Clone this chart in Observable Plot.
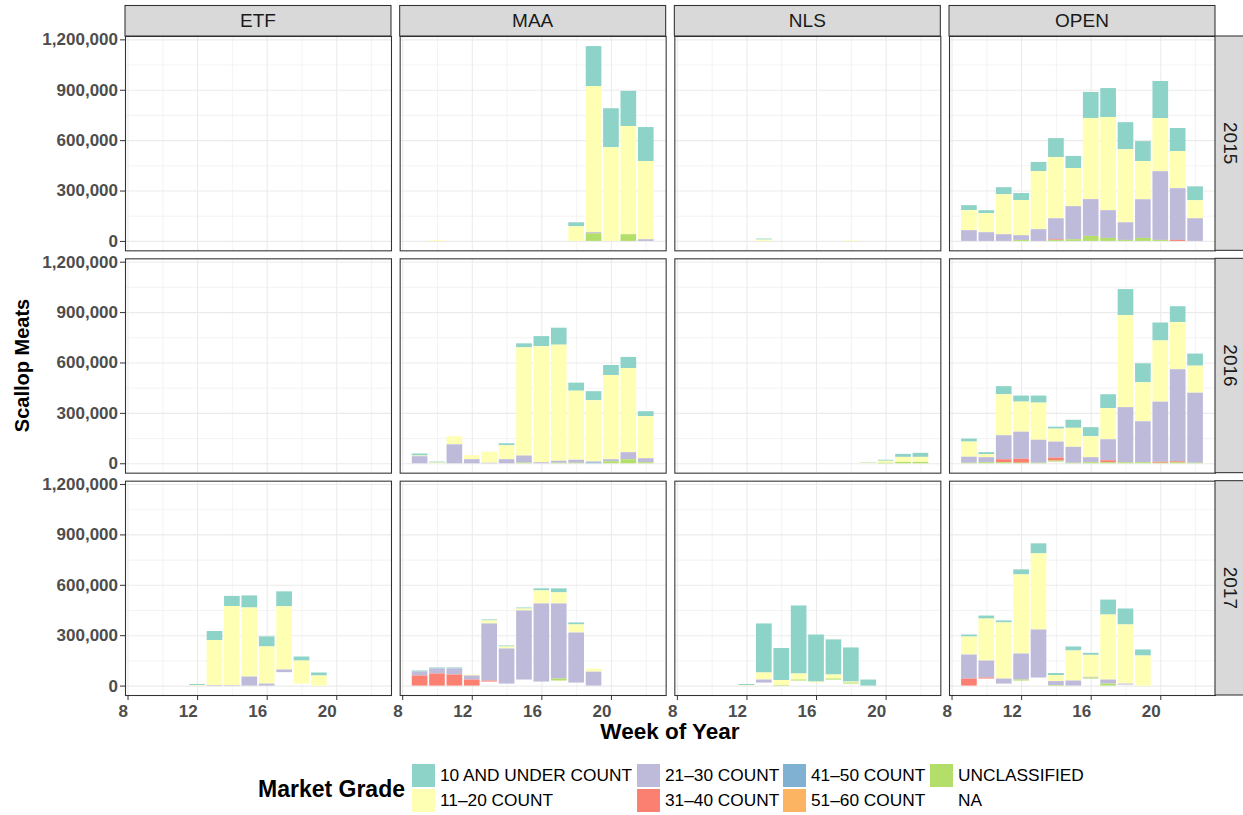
<!DOCTYPE html>
<html><head><meta charset="utf-8">
<script src="https://cdn.jsdelivr.net/npm/d3@7"></script>
<script src="https://cdn.jsdelivr.net/npm/@observablehq/plot@0.6"></script>
<style>
body{margin:0;background:#fff;font-family:"Liberation Sans",Arial,Helvetica,sans-serif;}
#wrap{position:relative;width:1243px;height:815px;overflow:hidden;background:#fff;}
#chart{position:absolute;left:0;top:0;}
#chart svg [aria-label*="axis"] text{fill:#4d4d4d;font-weight:bold;}
.lg-title{position:absolute;font-weight:bold;font-size:23px;color:#000;line-height:1;}
.lg-sw{position:absolute;width:23px;height:23px;}
.lg-lab{position:absolute;font-size:17.3px;color:#000;line-height:23px;white-space:nowrap;}
</style></head><body>
<div id="wrap"><div id="chart"></div><div id="legend"></div></div>
<script>
// ---- categories ----
const weeks = [9,10,11,12,13,14,15,16,17,18,19,20,21,22];
const areas = ["ETF","MAA","NLS","OPEN"];
const years = [2015,2016,2017];
const grades = ["10 AND UNDER COUNT","11–20 COUNT","21–30 COUNT","31–40 COUNT","41–50 COUNT","51–60 COUNT","UNCLASSIFIED","NA"];
const gradeColors = ["#8DD3C7","#FFFFB3","#BEBADA","#FB8072","#80B1D3","#FDB462","#B3DE69","transparent"];
const xTicks = [8,12,16,20];
const xMinor = [10,14,18,22];
const yTicks = [0,300000,600000,900000,1200000];
const yMinor = [150000,450000,750000,1050000];

// ---- values (weeks 9..22) ----
// MAA 2015
const maa15_u10 = [0,0,0,0,0,0,0,0,0,24000,238000,232000,209000,203000];
const maa15_g11 = [0,5000,0,0,0,0,0,0,0,87000,870000,558000,644000,465000];
const maa15_g21 = [0,0,0,0,0,0,0,0,0,0,6000,0,0,10000];
const maa15_ucl = [0,0,0,0,0,0,0,0,0,0,46000,0,40000,0];
// NLS 2015
const nls15_u10 = [0,0,0,0,6000,0,0,0,0,0,0,0,0,0];
const nls15_g11 = [0,0,0,0,8000,0,0,0,0,4000,0,0,0,0];
// OPEN 2015
const open15_u10 = [30000,18000,42000,42000,54000,113000,72000,155000,173000,161000,119000,221000,137000,83000];
const open15_g11 = [119000,113000,238000,209000,346000,364000,227000,483000,554000,435000,227000,316000,221000,107000];
const open15_g21 = [64000,52000,40000,28000,70000,125000,197000,219000,165000,105000,230000,409000,308000,135000];
const open15_g31 = [0,0,0,0,0,4000,0,0,0,0,0,0,6000,0];
const open15_ucl = [0,0,0,6000,0,6000,10000,30000,18000,6000,18000,6000,0,0];
// MAA 2016
const maa16_u10 = [12000,6000,0,0,0,12000,24000,60000,101000,48000,54000,60000,66000,30000];
const maa16_g11 = [4000,4000,48000,24000,66000,83000,644000,691000,691000,411000,364000,501000,501000,250000];
const maa16_g21 = [42000,0,113000,24000,3000,24000,42000,6000,12000,18000,6000,12000,42000,24000];
const maa16_g41 = [0,0,0,0,0,0,0,0,0,0,5000,0,0,0];
const maa16_ucl = [0,0,0,0,0,0,4000,0,3000,3000,0,12000,24000,6000];
// NLS 2016
const nls16_u10 = [0,0,0,0,0,0,0,0,0,0,3000,6000,18000,24000];
const nls16_g11 = [0,0,0,0,0,0,0,0,0,0,3000,12000,30000,30000];
const nls16_ucl = [0,0,0,0,0,0,0,0,0,0,0,3000,8000,8000];
// OPEN 2016
const open16_u10 = [18000,12000,48000,36000,42000,12000,48000,54000,83000,155000,113000,107000,95000,72000];
const open16_g11 = [90000,18000,244000,179000,221000,77000,113000,125000,185000,548000,232000,364000,280000,161000];
const open16_g21 = [36000,30000,143000,161000,137000,95000,95000,30000,125000,328000,244000,358000,548000,417000];
const open16_g31 = [0,0,18000,24000,0,18000,0,0,12000,0,0,6000,6000,0];
const open16_ucl = [3000,6000,6000,3000,3000,6000,3000,6000,6000,6000,6000,3000,6000,3000];
const open16_na  = [0,0,0,0,0,10000,0,0,0,0,0,0,0,0];
// ETF 2017
const etf17_u10 = [0,0,0,6000,54000,60000,72000,60000,89000,24000,18000,0,0,0];
const etf17_g11 = [0,0,0,3000,268000,471000,411000,221000,376000,137000,60000,0,0,0];
const etf17_g21 = [0,0,0,0,3000,3000,54000,12000,16000,0,0,0,0,0];
const etf17_na  = [0,0,0,0,0,0,0,0,80000,12000,0,0,0,0];
// MAA 2017
const maa17_u10 = [6000,6000,6000,0,6000,6000,6000,12000,24000,12000,0,0,0,0];
const maa17_g11 = [0,0,0,6000,18000,12000,12000,78000,66000,48000,18000,0,0,0];
const maa17_g21 = [24000,30000,36000,24000,340000,209000,411000,465000,447000,298000,83000,0,0,0];
const maa17_g31 = [60000,72000,66000,36000,6000,0,0,0,0,0,0,0,0,0];
const maa17_ucl = [0,0,0,0,0,0,0,0,12000,0,0,0,0,0];
const maa17_na  = [0,0,0,0,24000,12000,36000,24000,30000,18000,0,0,0,0];
// NLS 2017
const nls17_u10 = [0,0,0,6000,292000,191000,405000,280000,209000,203000,36000,0,0,0];
const nls17_g11 = [0,0,0,3000,42000,30000,36000,6000,24000,6000,0,0,0,0];
const nls17_g21 = [0,0,0,0,18000,0,0,0,0,0,0,0,0,0];
const nls17_ucl = [0,0,0,0,0,3000,6000,0,6000,6000,0,0,0,0];
const nls17_na  = [0,0,0,0,18000,0,30000,18000,36000,12000,0,0,0,0];
// OPEN 2017
const open17_u10 = [12000,18000,12000,30000,60000,12000,24000,12000,89000,95000,36000,0,0,0];
const open17_g11 = [107000,250000,334000,471000,453000,36000,179000,131000,387000,352000,179000,0,0,0];
const open17_g21 = [143000,101000,30000,155000,286000,24000,30000,4000,24000,6000,0,0,0,0];
const open17_g31 = [42000,6000,0,0,0,0,0,0,0,0,0,0,0,0];
const open17_ucl = [0,0,0,6000,0,3000,0,6000,12000,0,0,0,0,0];
const open17_na  = [0,42000,12000,30000,48000,0,0,42000,0,6000,0,0,0,0];

// ---- build table ----
const table = [];
function addPanel(area, year, series) {
  for (const [grade, arr] of series) {
    arr.forEach((v, i) => { if (v > 0) table.push({area, year, week: weeks[i], grade, value: v}); });
  }
}
const G = grades;
addPanel("MAA", 2015, [[G[0], maa15_u10],[G[1], maa15_g11],[G[2], maa15_g21],[G[6], maa15_ucl]]);
addPanel("NLS", 2015, [[G[0], nls15_u10],[G[1], nls15_g11]]);
addPanel("OPEN", 2015, [[G[0], open15_u10],[G[1], open15_g11],[G[2], open15_g21],[G[3], open15_g31],[G[6], open15_ucl]]);
addPanel("MAA", 2016, [[G[0], maa16_u10],[G[1], maa16_g11],[G[2], maa16_g21],[G[4], maa16_g41],[G[6], maa16_ucl]]);
addPanel("NLS", 2016, [[G[0], nls16_u10],[G[1], nls16_g11],[G[6], nls16_ucl]]);
addPanel("OPEN", 2016, [[G[0], open16_u10],[G[1], open16_g11],[G[2], open16_g21],[G[3], open16_g31],[G[6], open16_ucl],[G[7], open16_na]]);
addPanel("ETF", 2017, [[G[0], etf17_u10],[G[1], etf17_g11],[G[2], etf17_g21],[G[7], etf17_na]]);
addPanel("MAA", 2017, [[G[0], maa17_u10],[G[1], maa17_g11],[G[2], maa17_g21],[G[3], maa17_g31],[G[6], maa17_ucl],[G[7], maa17_na]]);
addPanel("NLS", 2017, [[G[0], nls17_u10],[G[1], nls17_g11],[G[2], nls17_g21],[G[6], nls17_ucl],[G[7], nls17_na]]);
addPanel("OPEN", 2017, [[G[0], open17_u10],[G[1], open17_g11],[G[2], open17_g21],[G[3], open17_g31],[G[6], open17_ucl],[G[7], open17_na]]);
// empty panels keep a zero-height placeholder so the facet exists
table.push({area: "ETF", year: 2015, week: 9, grade: "NA", value: 0});
table.push({area: "ETF", year: 2016, week: 9, grade: "NA", value: 0});

const W = 1243, H = 750;
const mL = 125, mR = 28, mT = 36, mB = 55;
const stackOrder = grades.slice().reverse();

const plot = Plot.plot({
  width: W, height: H,
  marginLeft: mL, marginRight: mR, marginTop: mT, marginBottom: mB,
  style: {fontFamily: '"Liberation Sans", Arial, Helvetica, sans-serif', fontSize: "17px", color: "#333333", background: "#ffffff", overflow: "visible"},
  facet: {data: table, x: "area", y: "year", marginLeft: mL, marginRight: mR, marginTop: mT, marginBottom: mB},
  fx: {domain: areas, paddingInner: 0.0316, paddingOuter: 0, align: 0.5, round: false, axis: null, label: null},
  fy: {domain: years, paddingInner: 0.036, paddingOuter: 0, align: 0.5, round: false, axis: null, label: null},
  x: {domain: [7.855, 23.145], ticks: xTicks, tickSize: 5, tickPadding: 4, label: null},
  y: {domain: [-56000, 1220000], ticks: yTicks, tickFormat: d3.format(","), tickSize: 5, tickPadding: 2.5, label: null},
  color: {domain: grades, range: gradeColors},
  marks: [
    Plot.ruleX(xMinor, {stroke: "#ebebeb", strokeWidth: 0.6}),
    Plot.ruleY(yMinor, {stroke: "#ebebeb", strokeWidth: 0.6}),
    Plot.ruleX(xTicks, {stroke: "#ebebeb", strokeWidth: 1.1}),
    Plot.ruleY(yTicks, {stroke: "#ebebeb", strokeWidth: 1.1}),
    Plot.rectY(table, Plot.stackY({
      x1: d => d.week - 0.45,
      x2: d => d.week + 0.45,
      y: "value",
      fill: "grade",
      order: stackOrder,
      inset: 0
    })),
    Plot.frame({stroke: "#333333", strokeWidth: 1.07, fill: "none"})
  ]
});
document.getElementById("chart").appendChild(plot);

// ---- strips and titles ----
const svg = d3.select(plot.tagName.toLowerCase() === "svg" ? plot : plot.querySelector("svg"));
// x tick labels are right-aligned on their ticks, as in the original
svg.selectAll('[aria-label="x-axis tick label"] text, [aria-label="x-axis"] text').attr("text-anchor", "end");
function band(s) {
  const b = d3.scaleBand(s.domain, s.range)
    .paddingInner(s.paddingInner ?? 0).paddingOuter(s.paddingOuter ?? 0).align(s.align ?? 0.5);
  if (s.round) b.round(true);
  return b;
}
const bx = band(plot.scale("fx"));
const by = band(plot.scale("fy"));
const g = svg.append("g").attr("class", "strips");
areas.forEach(a => {
  g.append("rect").attr("x", bx(a)).attr("y", 5.5).attr("width", bx.bandwidth()).attr("height", mT - 5.5)
    .attr("fill", "#d9d9d9").attr("stroke", "#333333").attr("stroke-width", 1.07);
  g.append("text").attr("x", bx(a) + bx.bandwidth() / 2).attr("y", (5.5 + mT) / 2).attr("dy", "0.35em")
    .attr("text-anchor", "middle").attr("fill", "#1a1a1a").style("font-size", "19px").style("font-weight", "normal").text(a);
});
const xr = W - mR;
years.forEach(yr => {
  g.append("rect").attr("x", xr).attr("y", by(yr)).attr("width", 40).attr("height", by.bandwidth())
    .attr("fill", "#d9d9d9").attr("stroke", "#333333").attr("stroke-width", 1.07);
  const cx = xr + 15.5, cy = by(yr) + by.bandwidth() / 2;
  g.append("text").attr("transform", `translate(${cx},${cy}) rotate(90)`).attr("dy", "0.35em")
    .attr("text-anchor", "middle").attr("fill", "#1a1a1a").style("font-size", "19px").text(yr);
});
svg.append("text").attr("x", (mL + W - mR) / 2).attr("y", 731).attr("dy", "0.35em")
  .attr("text-anchor", "middle").attr("fill", "#000").style("font-size", "22.5px").style("font-weight", "bold").text("Week of Year");
svg.append("text").attr("transform", `translate(22,${(mT + H - mB) / 2}) rotate(-90)`).attr("dy", "0.35em")
  .attr("text-anchor", "middle").attr("fill", "#000").style("font-size", "20px").style("font-weight", "bold").text("Scallop Meats");

// ---- legend ----
const legend = document.getElementById("legend");
const lt = document.createElement("div");
lt.className = "lg-title"; lt.textContent = "Market Grade";
lt.style.left = "258px"; lt.style.top = "778px";
legend.appendChild(lt);
const colX = [412, 637, 783, 930];
const rowY = [764, 789];
grades.forEach((gr, i) => {
  const c = Math.floor(i / 2), r = i % 2;
  const sw = document.createElement("div");
  sw.className = "lg-sw";
  sw.style.left = colX[c] + "px"; sw.style.top = rowY[r] + "px";
  sw.style.background = gradeColors[i];
  legend.appendChild(sw);
  const lb = document.createElement("div");
  lb.className = "lg-lab"; lb.textContent = gr;
  lb.style.left = (colX[c] + 28) + "px"; lb.style.top = rowY[r] + "px";
  legend.appendChild(lb);
});
</script>
</body></html>
